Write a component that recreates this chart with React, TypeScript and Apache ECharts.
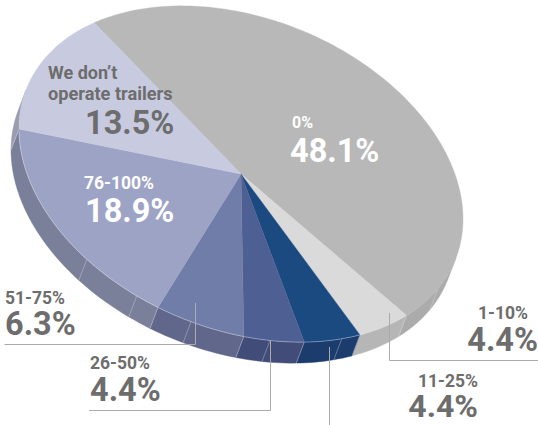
import React, { useEffect, useRef } from "react";
import * as echarts from "echarts";

const categories = ["0%", "1-10%", "11-25%", "26-50%", "51-75%", "76-100%", "We don\u2019t operate trailers"];
const shares = [48.1, 4.4, 4.4, 4.4, 6.3, 18.9, 13.5];
const faceColors = ["#b8b8b8", "#dadada", "#1b4a80", "#4e5f93", "#717da9", "#9da3c5", "#c8cbe0"];
const wallColors = ["#ababab", "#b6b6b6", "#1c3c6e", "#414c78", "#60678a", "#7a7f9a", "#9a9dad"];
const wallSeams = [27.5, 63, 82.5, 103, 118, 134];

const CX = 241, CY = 174, AX = 222, AY = 45, BY = 162;
const DX = -8, DY = 21;
const START = 228.6;
const VIS_FROM = 14.5, VIS_TO = 194.5;

const rim = (deg: number, ox = 0, oy = 0): number[] => {
  const t = (deg * Math.PI) / 180;
  return [CX + ox + AX * Math.cos(t), CY + oy + AY * Math.cos(t) + BY * Math.sin(t)];
};
const arcPts = (a: number, b: number, ox = 0, oy = 0): number[][] => {
  const n = Math.max(2, Math.ceil(Math.abs(b - a) / 1.5));
  const out: number[][] = [];
  for (let i = 0; i <= n; i++) out.push(rim(a + ((b - a) * i) / n, ox, oy));
  return out;
};
const total = shares.reduce((s, v) => s + v, 0);
const span = (i: number): [number, number] => {
  const before = shares.slice(0, i).reduce((s, v) => s + v, 0);
  return [START + (before / total) * 360, START + ((before + shares[i]) / total) * 360];
};
const seriesData = categories.map((name, i) => ({ name, value: shares[i] }));

const faceItem = (p: any) => {
  const [a, b] = span(p.dataIndex);
  return {
    type: "polygon",
    shape: { points: [[CX, CY], ...arcPts(a, b)] },
    style: { fill: faceColors[p.dataIndex], stroke: faceColors[p.dataIndex], lineWidth: 0.4 },
  };
};
const wallItem = (p: any) => {
  const i = p.dataIndex;
  let [a, b] = span(i);
  if (a >= 360) { a -= 360; b -= 360; }
  if (i === 0) { a = VIS_FROM; b = b - 360; }
  if (i === categories.length - 1) { b = VIS_TO; }
  a = Math.max(a, VIS_FROM);
  b = Math.min(b, VIS_TO);
  const top = arcPts(a, b);
  const low = arcPts(b, a, DX, DY);
  const seams = wallSeams.filter((d) => d >= a && d < b).concat(i === 0 ? [] : [a]);
  return {
    type: "group",
    children: [
      { type: "polygon", shape: { points: [...top, ...low] }, style: { fill: wallColors[i], stroke: wallColors[i], lineWidth: 0.4 } },
      ...seams.map((d) => {
        const [x1, y1] = rim(d);
        const [x2, y2] = rim(d, DX, DY);
        return { type: "line", shape: { x1, y1, x2, y2 }, style: { stroke: "rgba(225,225,235,0.45)", lineWidth: 0.8 } };
      }),
    ],
  };
};
const rimItem = () => ({
  type: "polyline",
  shape: { points: arcPts(56, 179) },
  style: { stroke: "rgba(235,238,245,0.55)", lineWidth: 0.7, fill: "none" },
});

const FONT = "Roboto";
const GREY = "#6d6d6d";
const LEAD = "#ababab";
const text = (t: string, x: number, y: number, size: number, fill: string, align = "left") => ({
  type: "text", x, y, z: 100, silent: true,
  style: { text: t, x: 0, y: 0, fill, font: `700 ${size}px ${FONT}`, textAlign: align, textVerticalAlign: "middle" },
});
const lead = (pts: number[][]) => ({
  type: "polyline", z: 100, silent: true,
  shape: { points: pts },
  style: { stroke: LEAD, lineWidth: 1, fill: "none" },
});

export default function App() {
  const ref = useRef<HTMLDivElement>(null);
  useEffect(() => {
    const chart = echarts.init(ref.current!, null, { renderer: "svg" });
    chart.setOption({
      animation: false,
      backgroundColor: "#ffffff",
      series: [
        { type: "custom", name: "wall", coordinateSystem: "none", z: 1, silent: true, data: seriesData, renderItem: wallItem },
        { type: "custom", name: "share", coordinateSystem: "none", z: 2, silent: true, data: seriesData, renderItem: faceItem },
        { type: "custom", name: "rim", coordinateSystem: "none", z: 3, silent: true, data: [seriesData[0]], renderItem: rimItem },
      ],
      graphic: { elements: [
        lead([[4.5, 344.5], [195.5, 344.5], [195.5, 303]]),
        lead([[89, 410.5], [270.5, 410.5], [270.5, 341]]),
        lead([[329.5, 347], [329.5, 425]]),
        lead([[389.5, 313], [389.5, 360.5], [538, 360.5]]),
        text("We don\u2019t", 48, 72, 18, GREY),
        text("operate trailers", 48, 93, 18.2, GREY),
        text(`${shares[6]}%`, 85, 123, 32.5, GREY),
        text(categories[5], 84, 183, 17.5, "#ffffff"),
        text(`${shares[5]}%`, 85, 211, 32.5, "#ffffff"),
        text(categories[0], 292, 122, 16, "#ffffff"),
        text(`${shares[0]}%`, 290, 151, 32.5, "#ffffff"),
        text(categories[4], 5, 298, 17.5, GREY),
        text(`${shares[4]}%`, 5, 324, 32.5, GREY),
        text(categories[3], 90, 363, 17.5, GREY),
        text(`${shares[3]}%`, 90, 390, 32.5, GREY),
        text(categories[1], 528, 313, 17.5, GREY, "right"),
        text(`${shares[1]}%`, 538, 340, 32.5, GREY, "right"),
        text(categories[2], 478, 381, 17.5, GREY, "right"),
        text(`${shares[2]}%`, 478, 406, 32, GREY, "right"),
      ] },
    });
    return () => chart.dispose();
  }, []);
  return <div ref={ref} style={{ position: "fixed", left: 0, top: 0, width: 538, height: 425 }} />;
}
